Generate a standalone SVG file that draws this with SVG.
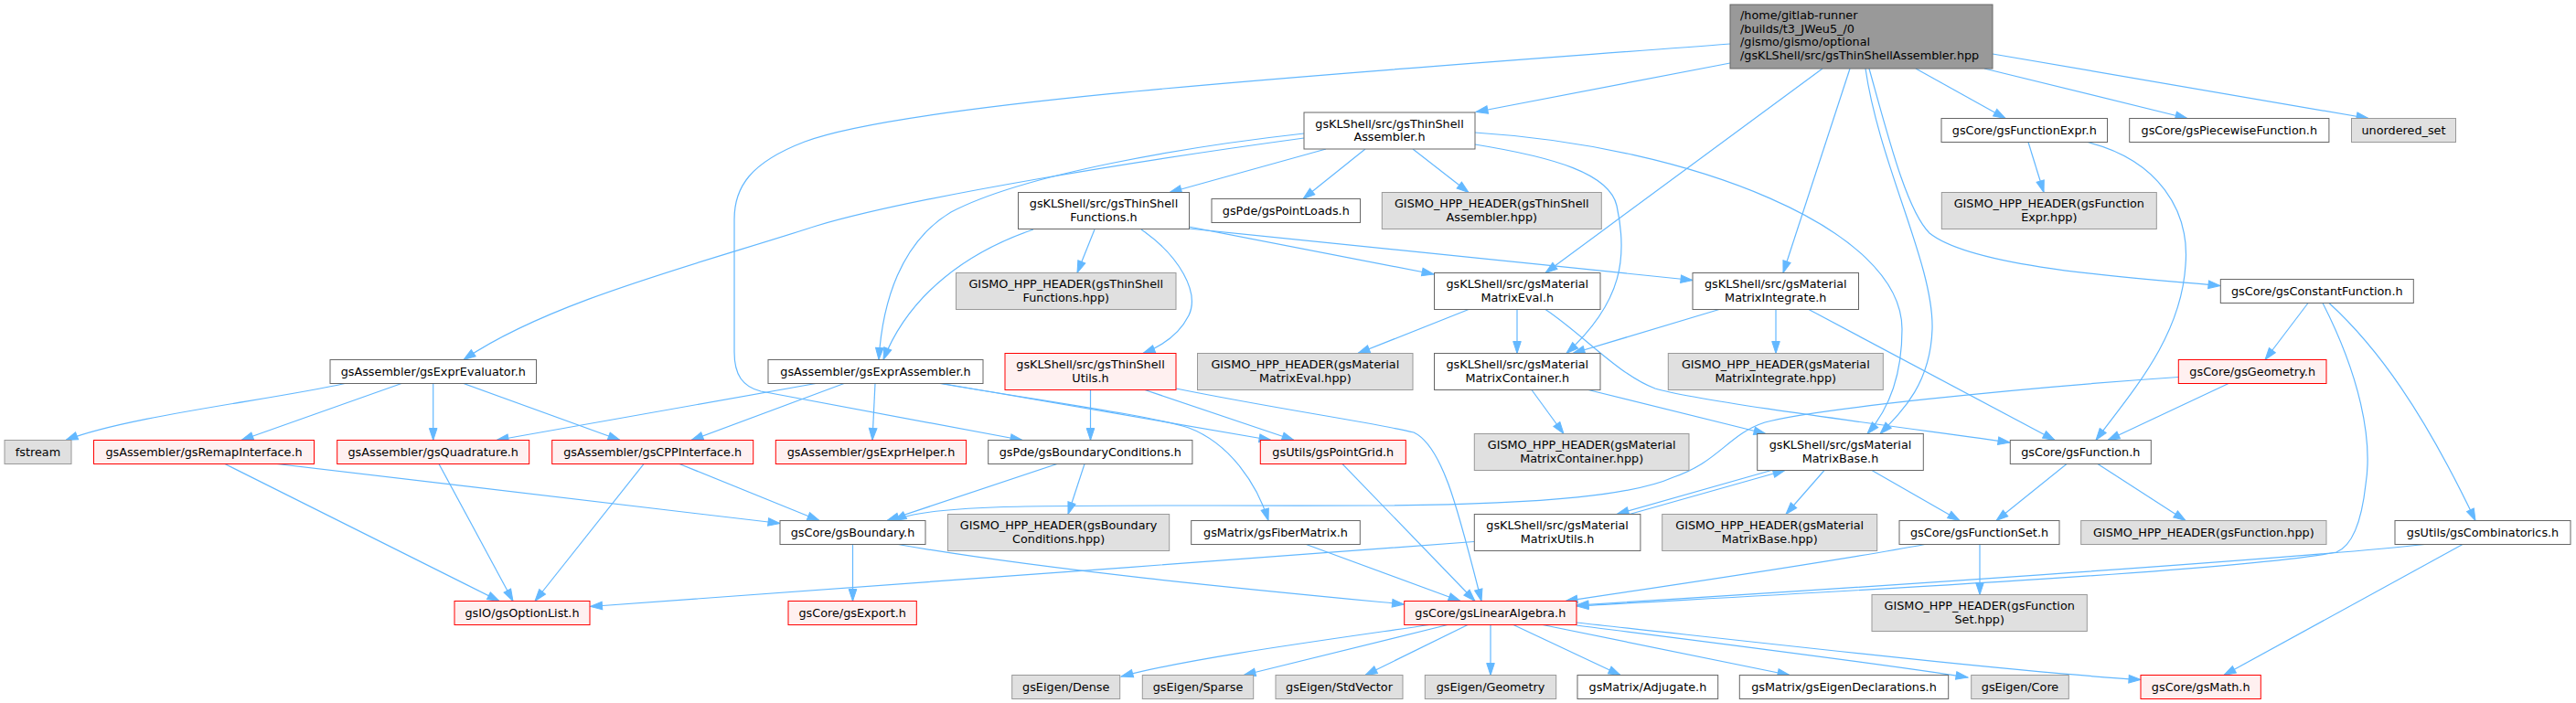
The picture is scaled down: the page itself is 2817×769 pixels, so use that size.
<svg xmlns="http://www.w3.org/2000/svg" width="2817" height="769" viewBox="0 0 2817 769">
<style>
rect{stroke-width:1}
.n rect{fill:#fff;stroke:#666}
.g rect{fill:#e0e0e0;stroke:#999}
.r rect{fill:#fff0f0;stroke:#f00}
.m rect{fill:#999;stroke:#666}
text{font-family:"DejaVu Sans",sans-serif;font-size:12.8px;text-anchor:middle;fill:#000}
.m text{text-anchor:start}
#edges path{fill:none;stroke:#63b8ff;stroke-width:1.2;marker-end:url(#ah)}
</style>
<defs>
<marker id="ah" markerUnits="userSpaceOnUse" markerWidth="14" markerHeight="10" refX="13" refY="4.3" orient="auto" overflow="visible">
<path d="M0,0 L13,4.3 L0,8.6 z" fill="#63b8ff" stroke="#63b8ff" stroke-width="1"/>
</marker>
</defs>
<rect width="2817" height="769" fill="#fff"/>
<g id="edges">
<path d="M1892,69 L1614,122.5"/>
<path d="M1892,48 C1500,78 1000,110 880,155 C820,178 803,205 803,240 L803,385 C803,410 812,423 832,428 L1118,481.5"/>
<path d="M1993,75 L1690,298.5"/>
<path d="M2023,75 L1950,298.5"/>
<path d="M2040,75 C2055,180 2115,290 2113,360 C2111,420 2080,450 2056,474.5"/>
<path d="M2044,75 C2065,150 2085,230 2110,255 C2160,295 2350,305 2428,312.5"/>
<path d="M2095,75 L2193,129.5"/>
<path d="M2170,75 L2392,129.5"/>
<path d="M2179,59 L2590,129.5"/>
<path d="M1450,163 L1279,210.5"/>
<path d="M1493,163 L1425,217.5"/>
<path d="M1545,163 L1606,210.5"/>
<path d="M1613,158 C1700,172 1760,190 1768,225 C1780,280 1775,330 1713,386.5"/>
<path d="M1613,145 C1850,160 2080,250 2080,360 C2080,405 2068,445 2042,474.5"/>
<path d="M1426,146 C1300,160 1120,190 1040,232 C985,265 965,330 961,393.5"/>
<path d="M1426,151 C1250,175 1000,215 893,247 C760,290 600,330 507,393.5"/>
<path d="M1197,251 L1178,298.5"/>
<path d="M1130,251 C1060,275 995,320 966,393.5"/>
<path d="M1248,251 C1290,280 1312,320 1300,345 C1290,365 1272,378 1250,386.5"/>
<path d="M1300,248 L1568,300"/>
<path d="M1300,250 L1851,306.5"/>
<path d="M1606,338.5 L1485,386.5"/>
<path d="M1659,338.5 L1659,386.5"/>
<path d="M1690,338.5 C1730,365 1770,410 1810,425 C1860,440 2100,470 2198,484"/>
<path d="M1942,338.5 L1942,386.5"/>
<path d="M1880,338.5 L1720,386.5"/>
<path d="M1978,338.5 L2247,481.5"/>
<path d="M1675,426.5 L1710,474.5"/>
<path d="M1737,426.5 L1931,474.5"/>
<path d="M892,419.5 L543,481.5"/>
<path d="M923,419.5 L756,481.5"/>
<path d="M957,419.5 L954,481.5"/>
<path d="M1030,419.5 L1390,481.5"/>
<path d="M1028,419.5 C1150,440 1260,455 1300,468 C1345,485 1375,530 1387,569.5"/>
<path d="M1192.5,426.5 L1192.5,481.5"/>
<path d="M1252,426.5 L1415,481.5"/>
<path d="M1286,425 C1400,448 1500,462 1546,473 C1578,488 1595,560 1620,657.5"/>
<path d="M377,419.5 C300,437 140,455 72,481.5"/>
<path d="M439,419.5 L264,481.5"/>
<path d="M473.7,419.5 L473.7,481.5"/>
<path d="M507,419.5 L678,481.5"/>
<path d="M246,507.5 L546,657.5"/>
<path d="M303,507.5 L853,572.5"/>
<path d="M480,507.5 L561,657.5"/>
<path d="M704,507.5 L585,657.5"/>
<path d="M743,507.5 L896,569.5"/>
<path d="M1156,507.5 L970,569.5"/>
<path d="M1186,507.5 L1168,562.5"/>
<path d="M1468,507.5 L1613,657.5"/>
<path d="M1427,595 L1597,657.5"/>
<path d="M932.5,595.5 L932.5,657.5"/>
<path d="M982,595.5 C1150,625 1400,648 1535.5,661"/>
<path d="M1612,592.5 C1300,616 900,645 645.5,663.5"/>
<path d="M1782,562.5 L1952,514.5"/>
<path d="M1937,514.5 L1768,562.5"/>
<path d="M1995,514.5 L1953,562.5"/>
<path d="M2047,514.5 L2143,569.5"/>
<path d="M2260,507.5 L2183,569.5"/>
<path d="M2294,507.5 L2390,569.5"/>
<path d="M2165,595.5 L2165,650.5"/>
<path d="M2105,595.5 C2000,615 1850,637 1712,657.5"/>
<path d="M2524,331.5 L2477,393.5"/>
<path d="M2540,331.5 C2580,410 2595,480 2587,530 C2582,575 2570,598 2555,604 C2450,625 1950,650 1724,663"/>
<path d="M2547,331.5 C2600,380 2650,450 2707,569.5"/>
<path d="M2437,419.5 L2305,481.5"/>
<path d="M2382,412.5 C2200,425 1980,448 1930,462 C1890,475 1880,505 1830,522 C1790,540 1700,552 1500,553 C1200,554 1020,548 978,569.5"/>
<path d="M2218,155.5 L2235,210.5"/>
<path d="M2283,155.5 C2360,175 2395,230 2390,290 C2385,370 2330,430 2292,481.5"/>
<path d="M2652,595.5 C2500,612 2000,645 1724,662"/>
<path d="M2693,595.5 L2432,738.5"/>
<path d="M1563,683.5 C1450,700 1300,720 1226,740"/>
<path d="M1583,683.5 L1360,738.5"/>
<path d="M1605,683.5 L1493,738.5"/>
<path d="M1630,683.5 L1630,738.5"/>
<path d="M1655,683.5 L1772,738.5"/>
<path d="M1687,683.5 L1957,738.5"/>
<path d="M1724,684 C1850,700 2050,725 2152,741"/>
<path d="M1724,681 C1900,700 2200,735 2341,743.5"/>
</g>
<g id="main" class="m"><rect x="1892" y="5" width="287" height="70"/><text x="1903" y="21">/home/gitlab-runner</text><text x="1903" y="35.7">/builds/t3_JWeu5_/0</text><text x="1903" y="50.3">/gismo/gismo/optional</text><text x="1903" y="65">/gsKLShell/src/gsThinShellAssembler.hpp</text></g>
<g id="tsa" class="n"><rect x="1426" y="123" width="187" height="40"/><text x="1519.5" y="139.5">gsKLShell/src/gsThinShell</text><text x="1519.5" y="154">Assembler.h</text></g>
<g id="fexpr" class="n"><rect x="2123" y="129.5" width="181.5" height="26"/><text x="2213.8" y="146.5">gsCore/gsFunctionExpr.h</text></g>
<g id="piecewise" class="n"><rect x="2328.7" y="129.5" width="218.2" height="26"/><text x="2437.8" y="146.5">gsCore/gsPiecewiseFunction.h</text></g>
<g id="uset" class="g"><rect x="2571.5" y="129.5" width="114" height="26"/><text x="2628.5" y="146.5">unordered_set</text></g>
<g id="fexprhpp" class="g"><rect x="2123.3" y="210.5" width="235" height="40"/><text x="2240.8" y="227">GISMO_HPP_HEADER(gsFunction</text><text x="2240.8" y="241.5">Expr.hpp)</text></g>
<g id="constf" class="n"><rect x="2428.3" y="305.5" width="211" height="26"/><text x="2533.8" y="322.5">gsCore/gsConstantFunction.h</text></g>
<g id="mint" class="n"><rect x="1851" y="298.5" width="181.5" height="40"/><text x="1941.8" y="315">gsKLShell/src/gsMaterial</text><text x="1941.8" y="329.5">MatrixIntegrate.h</text></g>
<g id="meval" class="n"><rect x="1568.5" y="298.5" width="181.5" height="40"/><text x="1659.3" y="315">gsKLShell/src/gsMaterial</text><text x="1659.3" y="329.5">MatrixEval.h</text></g>
<g id="tsf" class="n"><rect x="1113.5" y="210.5" width="187" height="40"/><text x="1207" y="227">gsKLShell/src/gsThinShell</text><text x="1207" y="241.5">Functions.h</text></g>
<g id="pointloads" class="n"><rect x="1325" y="217.5" width="162.5" height="26"/><text x="1406.3" y="234.5">gsPde/gsPointLoads.h</text></g>
<g id="tsahpp" class="g"><rect x="1511.3" y="210.5" width="240" height="40"/><text x="1631.3" y="227">GISMO_HPP_HEADER(gsThinShell</text><text x="1631.3" y="241.5">Assembler.hpp)</text></g>
<g id="tsfhpp" class="g"><rect x="1045.5" y="298.5" width="240.5" height="40"/><text x="1165.8" y="315">GISMO_HPP_HEADER(gsThinShell</text><text x="1165.8" y="329.5">Functions.hpp)</text></g>
<g id="ee" class="n"><rect x="361" y="393.5" width="225.5" height="26"/><text x="473.8" y="410.5">gsAssembler/gsExprEvaluator.h</text></g>
<g id="ea" class="n"><rect x="840" y="393.5" width="235" height="26"/><text x="957.5" y="410.5">gsAssembler/gsExprAssembler.h</text></g>
<g id="tsu" class="r"><rect x="1099" y="386.5" width="187" height="40"/><text x="1192.5" y="403">gsKLShell/src/gsThinShell</text><text x="1192.5" y="417.5">Utils.h</text></g>
<g id="mevalhpp" class="g"><rect x="1309.5" y="386.5" width="235.5" height="40"/><text x="1427.3" y="403">GISMO_HPP_HEADER(gsMaterial</text><text x="1427.3" y="417.5">MatrixEval.hpp)</text></g>
<g id="mcont" class="n"><rect x="1568.5" y="386.5" width="181.5" height="40"/><text x="1659.3" y="403">gsKLShell/src/gsMaterial</text><text x="1659.3" y="417.5">MatrixContainer.h</text></g>
<g id="minthpp" class="g"><rect x="1824.3" y="386.5" width="235" height="40"/><text x="1941.8" y="403">GISMO_HPP_HEADER(gsMaterial</text><text x="1941.8" y="417.5">MatrixIntegrate.hpp)</text></g>
<g id="geom" class="r"><rect x="2382.3" y="393.5" width="161.7" height="26"/><text x="2463.2" y="410.5">gsCore/gsGeometry.h</text></g>
<g id="fstream" class="g"><rect x="5" y="481.5" width="73" height="26"/><text x="41.5" y="498.5">fstream</text></g>
<g id="remap" class="r"><rect x="102.5" y="481.5" width="241" height="26"/><text x="223" y="498.5">gsAssembler/gsRemapInterface.h</text></g>
<g id="quad" class="r"><rect x="368.7" y="481.5" width="210" height="26"/><text x="473.7" y="498.5">gsAssembler/gsQuadrature.h</text></g>
<g id="cpp" class="r"><rect x="603.7" y="481.5" width="220" height="26"/><text x="713.7" y="498.5">gsAssembler/gsCPPInterface.h</text></g>
<g id="exprhelper" class="r"><rect x="848.3" y="481.5" width="208.3" height="26"/><text x="952.5" y="498.5">gsAssembler/gsExprHelper.h</text></g>
<g id="bc" class="n"><rect x="1080.7" y="481.5" width="223.2" height="26"/><text x="1192.3" y="498.5">gsPde/gsBoundaryConditions.h</text></g>
<g id="pointgrid" class="r"><rect x="1378.3" y="481.5" width="159" height="26"/><text x="1457.8" y="498.5">gsUtils/gsPointGrid.h</text></g>
<g id="mconthpp" class="g"><rect x="1612.3" y="474.5" width="234.7" height="40"/><text x="1729.7" y="491">GISMO_HPP_HEADER(gsMaterial</text><text x="1729.7" y="505.5">MatrixContainer.hpp)</text></g>
<g id="mbase" class="n"><rect x="1921.7" y="474.5" width="181.6" height="40"/><text x="2012.5" y="491">gsKLShell/src/gsMaterial</text><text x="2012.5" y="505.5">MatrixBase.h</text></g>
<g id="func" class="n"><rect x="2198.3" y="481.5" width="154" height="26"/><text x="2275.3" y="498.5">gsCore/gsFunction.h</text></g>
<g id="bchpp" class="g"><rect x="1036.5" y="562.5" width="242.2" height="40"/><text x="1157.6" y="579">GISMO_HPP_HEADER(gsBoundary</text><text x="1157.6" y="593.5">Conditions.hpp)</text></g>
<g id="boundary" class="n"><rect x="853" y="569.5" width="159" height="26"/><text x="932.5" y="586.5">gsCore/gsBoundary.h</text></g>
<g id="fiber" class="n"><rect x="1302.7" y="569.5" width="184.6" height="26"/><text x="1395" y="586.5">gsMatrix/gsFiberMatrix.h</text></g>
<g id="mutils" class="n"><rect x="1612.3" y="562.5" width="181.6" height="40"/><text x="1703.1" y="579">gsKLShell/src/gsMaterial</text><text x="1703.1" y="593.5">MatrixUtils.h</text></g>
<g id="mbasehpp" class="g"><rect x="1817.7" y="562.5" width="235" height="40"/><text x="1935.2" y="579">GISMO_HPP_HEADER(gsMaterial</text><text x="1935.2" y="593.5">MatrixBase.hpp)</text></g>
<g id="fset" class="n"><rect x="2077" y="569.5" width="175" height="26"/><text x="2164.5" y="586.5">gsCore/gsFunctionSet.h</text></g>
<g id="funchpp" class="g"><rect x="2275.7" y="569.5" width="268.3" height="26"/><text x="2409.8" y="586.5">GISMO_HPP_HEADER(gsFunction.hpp)</text></g>
<g id="comb" class="n"><rect x="2619" y="569.5" width="192" height="26"/><text x="2715" y="586.5">gsUtils/gsCombinatorics.h</text></g>
<g id="optlist" class="r"><rect x="497" y="657.5" width="148" height="26"/><text x="571" y="674.5">gsIO/gsOptionList.h</text></g>
<g id="export" class="r"><rect x="862" y="657.5" width="140.3" height="26"/><text x="932.2" y="674.5">gsCore/gsExport.h</text></g>
<g id="la" class="r"><rect x="1535.7" y="657.5" width="188.3" height="26"/><text x="1629.8" y="674.5">gsCore/gsLinearAlgebra.h</text></g>
<g id="fsethpp" class="g"><rect x="2047" y="650.5" width="235.3" height="40"/><text x="2164.7" y="667">GISMO_HPP_HEADER(gsFunction</text><text x="2164.7" y="681.5">Set.hpp)</text></g>
<g id="dense" class="g"><rect x="1106.7" y="738.5" width="118" height="26"/><text x="1165.7" y="755.5">gsEigen/Dense</text></g>
<g id="sparse" class="g"><rect x="1249.3" y="738.5" width="121.4" height="26"/><text x="1310" y="755.5">gsEigen/Sparse</text></g>
<g id="stdvector" class="g"><rect x="1395" y="738.5" width="139" height="26"/><text x="1464.5" y="755.5">gsEigen/StdVector</text></g>
<g id="egeometry" class="g"><rect x="1558.3" y="738.5" width="143.4" height="26"/><text x="1630" y="755.5">gsEigen/Geometry</text></g>
<g id="adjugate" class="n"><rect x="1725" y="738.5" width="153.7" height="26"/><text x="1801.9" y="755.5">gsMatrix/Adjugate.h</text></g>
<g id="eigendecl" class="n"><rect x="1902.3" y="738.5" width="228.4" height="26"/><text x="2016.5" y="755.5">gsMatrix/gsEigenDeclarations.h</text></g>
<g id="core" class="g"><rect x="2155.7" y="738.5" width="106.6" height="26"/><text x="2209" y="755.5">gsEigen/Core</text></g>
<g id="math" class="r"><rect x="2341" y="738.5" width="131.3" height="26"/><text x="2406.7" y="755.5">gsCore/gsMath.h</text></g>
</svg>
